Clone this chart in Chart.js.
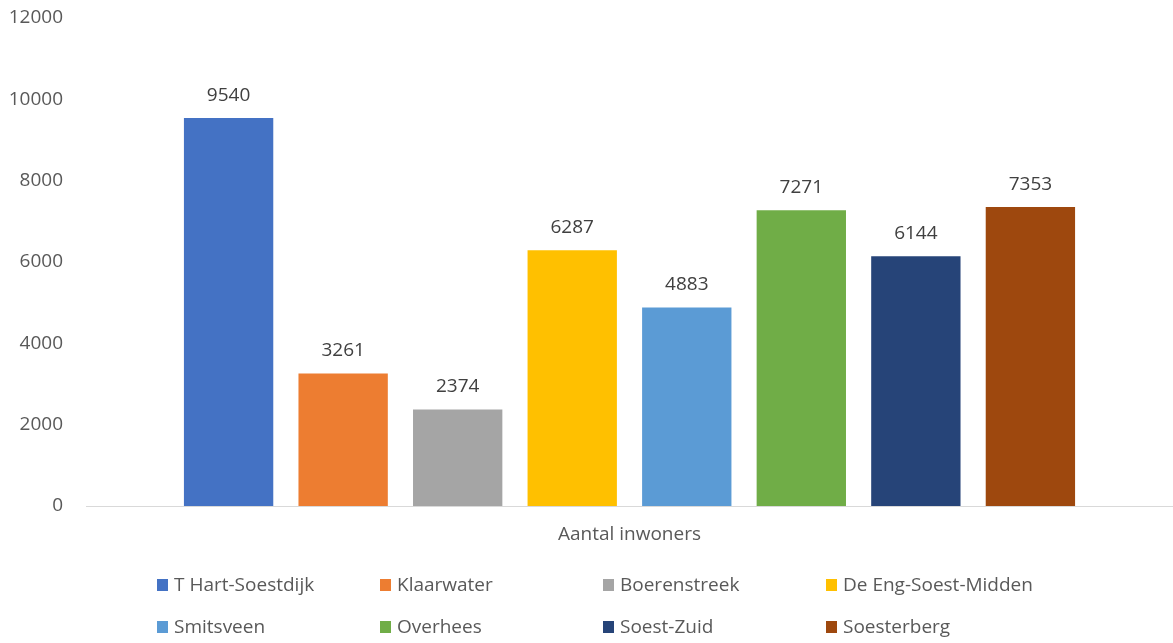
<!DOCTYPE html>
<html>
<head>
<meta charset="utf-8">
<script src="https://cdn.jsdelivr.net/npm/chart.js@4"></script>
<style>
    html, body { margin: 0; padding: 0; background: #fff; }
    #wrap { width: 1173px; height: 643px; position: relative; }
</style>
</head>
<body>
<div id="wrap"><canvas id="inwonersChart"></canvas></div>
<script>
// Data
const categories = ['Aantal inwoners'];
const wijken = ['T Hart-Soestdijk', 'Klaarwater', 'Boerenstreek', 'De Eng-Soest-Midden',
                'Smitsveen', 'Overhees', 'Soest-Zuid', 'Soesterberg'];
const inwoners = [9540, 3261, 2374, 6287, 4883, 7271, 6144, 7353];
const colors = ['#4472C4', '#ED7D31', '#A5A5A5', '#FFC000', '#5B9BD5', '#70AD47', '#264478', '#9E480E'];
const yTicks = [0, 2000, 4000, 6000, 8000, 10000, 12000];

const FONT = "'Open Sans', 'Noto Sans', sans-serif";

// value labels above the bars
const valueLabels = {
    id: 'valueLabels',
    afterDatasetsDraw(chart) {
        const ctx = chart.ctx;
        ctx.save();
        ctx.font = '19px ' + FONT;
        ctx.fillStyle = '#404040';
        ctx.textAlign = 'center';
        ctx.textBaseline = 'alphabetic';
        chart.data.datasets.forEach((ds, i) => {
            const meta = chart.getDatasetMeta(i);
            meta.data.forEach((bar, j) => {
                ctx.fillText(ds.data[j], bar.x, bar.y - 17);
            });
        });
        ctx.restore();
    }
};

// legend in a 4-column grid, like the original
const gridLegend = {
    id: 'gridLegend',
    afterDraw(chart) {
        const ctx = chart.ctx;
        ctx.save();
        ctx.font = '19px ' + FONT;
        ctx.textBaseline = 'middle';
        chart.data.datasets.forEach((ds, i) => {
            const col = i % 4;
            const row = Math.floor(i / 4);
            const x = 157 + col * 223;
            const y = 585 + row * 42;
            ctx.fillStyle = ds.backgroundColor;
            ctx.fillRect(x, y - 6, 11, 12);
            ctx.fillStyle = '#595959';
            ctx.fillText(ds.label, x + 17, y + 1);
        });
        ctx.restore();
    }
};

new Chart(document.getElementById('inwonersChart'), {
    type: 'bar',
    data: {
        labels: categories,
        datasets: wijken.map((name, i) => ({
            label: name,
            data: [inwoners[i]],
            backgroundColor: colors[i],
            categoryPercentage: 0.843,
            barPercentage: 0.78
        }))
    },
    options: {
        responsive: true,
        maintainAspectRatio: false,
        animation: false,
        layout: { padding: { top: 18, right: 0, bottom: 0, left: 0 } },
        plugins: {
            legend: { display: false },
            tooltip: { enabled: false }
        },
        scales: {
            x: {
                grid: { display: false, drawTicks: false },
                border: { display: true, color: '#D9D9D9', width: 1 },
                ticks: { color: '#595959', font: { family: FONT, size: 19 }, padding: 17 },
                afterFit: (scale) => { scale.height = 137; }
            },
            y: {
                min: 0,
                max: 12000,
                afterBuildTicks: (scale) => { scale.ticks = yTicks.map(v => ({ value: v })); },
                grid: { display: false, drawTicks: false },
                border: { display: false },
                ticks: {
                    color: '#595959',
                    font: { family: FONT, size: 19 },
                    padding: 23,
                    callback: (value) => String(value)
                },
                afterFit: (scale) => {
                    scale.width = 86;
                    scale.paddingTop = 0;
                    scale.paddingBottom = 0;
                }
            }
        }
    },
    plugins: [valueLabels, gridLegend]
});
</script>
</body>
</html>
